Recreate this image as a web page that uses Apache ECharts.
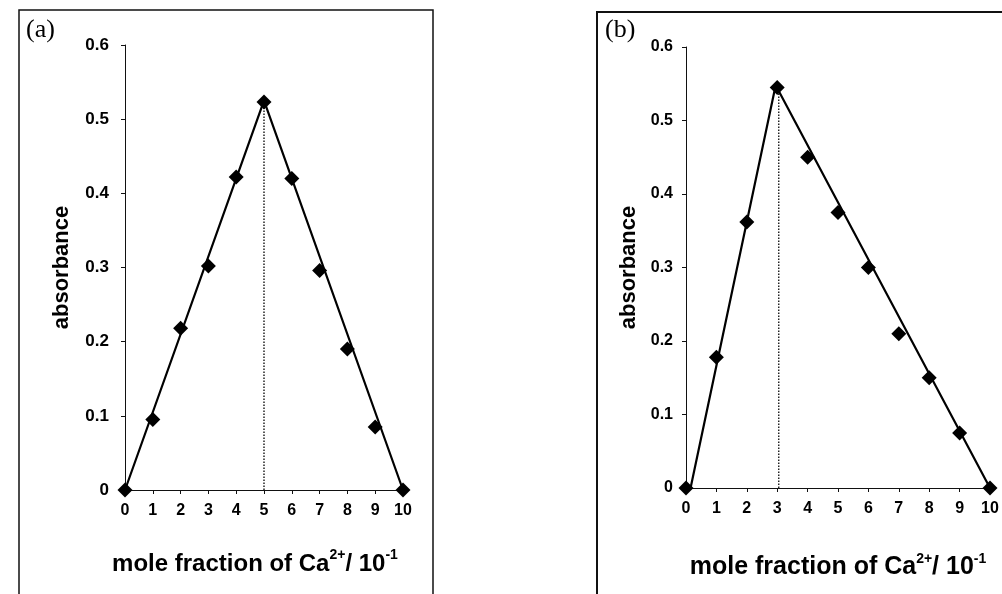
<!DOCTYPE html>
<html>
<head>
<meta charset="utf-8">
<script src="https://cdn.jsdelivr.net/npm/echarts@6/dist/echarts.min.js"></script>
<style>
    html, body { margin: 0; padding: 0; background: #fff; }
    #chart { width: 1002px; height: 594px; }
</style>
</head>
<body>
<div id="chart"></div>
<script>
    // mole fraction of Ca2+ (x 10^-1)
    const molFraction = [0, 1, 2, 3, 4, 5, 6, 7, 8, 9, 10];
    // measured absorbance, panel (a) and (b)
    const absA = [0, 0.095, 0.218, 0.302, 0.422, 0.523, 0.420, 0.296, 0.190, 0.085, 0];
    const absB = [0, 0.178, 0.362, 0.545, 0.450, 0.375, 0.300, 0.210, 0.150, 0.075, 0];
    // fitted straight lines (end points)
    const fitA = [[0, 0], [5, 0.525], [10, 0]];
    const fitB = [[0.15, 0], [2.95, 0.548], [10, 0]];
    // dotted vertical drop at the maximum
    const dropA = [[5, 0], [5, 0.523]];
    const dropB = [[3.05, 0], [3.05, 0.545]];

    const FONT = '"Liberation Sans", Arial, sans-serif';

    function pts(ys) {
        return molFraction.map((x, i) => [x, ys[i]]);
    }

    function xAxis(idx, big) {
        return {
            type: 'value',
            gridIndex: idx,
            min: 0,
            max: 10,
            interval: 1,
            name: '{t|mole fraction of Ca}{s|2+}{t|/ 10}{s|-1}',
            nameLocation: 'middle',
            nameGap: big ? 64 : 58,
            nameTextStyle: {
                padding: big ? 0 : [0, 18, 0, 0], // title in (a) sits a bit left of the axis centre
                rich: {
                    t: { fontFamily: FONT, fontWeight: 'bold', fontSize: big ? 25 : 24, color: '#000', verticalAlign: 'bottom', lineHeight: 28 },
                    s: { fontFamily: FONT, fontWeight: 'bold', fontSize: 14, color: '#000', verticalAlign: 'top', lineHeight: 14 }
                }
            },
            axisLine: { onZero: false, lineStyle: { color: '#111', width: 1 } },
            axisTick: { show: true, inside: false, length: 4, lineStyle: { color: '#111' } },
            axisLabel: { color: '#000', fontFamily: FONT, fontWeight: 'bold', fontSize: 16, margin: 13 },
            splitLine: { show: false }
        };
    }

    function yAxis(idx, gap, labelGap, labelSize) {
        return {
            type: 'value',
            gridIndex: idx,
            min: 0,
            max: 0.6,
            interval: 0.1,
            name: 'absorbance',
            nameLocation: 'middle',
            nameGap: gap,
            nameTextStyle: { fontFamily: FONT, fontWeight: 'bold', fontSize: 22, color: '#000' },
            axisLine: { show: true, lineStyle: { color: '#111', width: 1 } },
            axisTick: { show: true, inside: false, length: 4, lineStyle: { color: '#111' } },
            axisLabel: {
                color: '#000', fontFamily: FONT, fontWeight: 'bold', fontSize: labelSize, margin: labelGap,
                formatter: v => (v === 0 ? '0' : v.toFixed(1))
            },
            splitLine: { show: false }
        };
    }

    function panelSeries(idx, measured, fit, drop) {
        return [
            {
                type: 'line', xAxisIndex: idx, yAxisIndex: idx,
                data: drop, symbol: 'none', silent: true,
                lineStyle: { color: '#222', width: 1.5, type: 'dotted' }, z: 2
            },
            {
                type: 'line', xAxisIndex: idx, yAxisIndex: idx,
                data: fit, symbol: 'none', silent: true,
                lineStyle: { color: '#000', width: 2.2 }, z: 3
            },
            {
                type: 'scatter', xAxisIndex: idx, yAxisIndex: idx,
                data: pts(measured), symbol: 'diamond', symbolSize: 15,
                itemStyle: { color: '#000', opacity: 1 }, z: 4
            }
        ];
    }

    const chart = echarts.init(document.getElementById('chart'));
    chart.setOption({
        backgroundColor: '#fff',
        animation: false,
        grid: [
            { left: 125, top: 45, width: 278, height: 445, outerBoundsMode: 'none' },
            { left: 686, top: 47, width: 304, height: 441, outerBoundsMode: 'none' }
        ],
        xAxis: [xAxis(0, false), xAxis(1, true)],
        yAxis: [yAxis(0, 52, 16, 17), yAxis(1, 46, 13, 16)],
        series: [].concat(
            panelSeries(0, absA, fitA, dropA),
            panelSeries(1, absB, fitB, dropB)
        ),
        graphic: [
            // panel frames (open at the bottom, as cropped in the figure)
            { type: 'polyline', shape: { points: [[19, 594], [19, 10], [433, 10], [433, 594]] },
              style: { stroke: '#111', lineWidth: 1.5, fill: null } },
            { type: 'polyline', shape: { points: [[597, 594], [597, 12], [1002, 12]] },
              style: { stroke: '#111', lineWidth: 2, fill: null } },
            { type: 'text', left: 26, top: 17,
              style: { text: '(a)', font: '26px "Liberation Serif", "Times New Roman", serif', fill: '#000' } },
            { type: 'text', left: 605, top: 17,
              style: { text: '(b)', font: '26px "Liberation Serif", "Times New Roman", serif', fill: '#000' } }
        ]
    });
</script>
</body>
</html>
